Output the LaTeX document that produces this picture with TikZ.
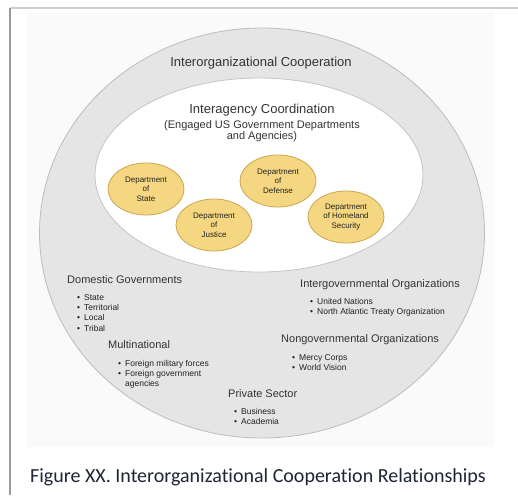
\documentclass[tikz,border=0pt]{standalone}
\usepackage{fontspec}
\setmainfont{Liberation Sans}
\newfontfamily\captionfont[Ligatures=NoCommon]{Carlito}
\usetikzlibrary{shapes.geometric}
\definecolor{framegray}{HTML}{9A9A9A}
\definecolor{toplinegray}{HTML}{CFCFCF}
\definecolor{panelgray}{HTML}{FAFAFA}
\definecolor{outerfill}{HTML}{E5E5E5}
\definecolor{outerline}{HTML}{BDBDBD}
\definecolor{innerline}{HTML}{C4C4C4}
\definecolor{deptfill}{HTML}{F6D781}
\definecolor{deptline}{HTML}{C9A650}
\definecolor{labeltext}{HTML}{333333}
\definecolor{depttext}{HTML}{222222}
\definecolor{captiontext}{HTML}{1E2533}
\tikzstyle{dept}=[ellipse,draw=deptline,fill=deptfill,line width=0.8pt,minimum width=76pt,minimum height=52pt,inner sep=0pt,align=center,font=\fontsize{8}{9.5}\selectfont,text=depttext]
\tikzstyle{title}=[inner sep=0pt,font=\fontsize{13}{15}\selectfont,text=labeltext]
\tikzstyle{group}=[anchor=base west,inner sep=0pt,font=\fontsize{11}{13}\selectfont,text=labeltext]
\tikzstyle{items}=[anchor=base west,inner sep=0pt,font=\fontsize{8.5}{10.4}\selectfont,text=depttext]
\newcommand{\bulletlist}[1]{\begin{tabular}[t]{@{}l@{\hspace{4pt}}l@{}}#1\end{tabular}}

\begin{document}
\begin{tikzpicture}[x=1pt,y=-1pt]
        \useasboundingbox (0,0) rectangle (518,495);
        % frame and panel
        \fill[panelgray] (27,12) rectangle (494,447);
        \draw[toplinegray,line width=1.2pt] (10,8) -- (518,8);
        \draw[framegray,line width=1.4pt] (10,8) -- (10,495);
        % circles
        \node[ellipse,draw=outerline,fill=outerfill,line width=0.8pt,minimum width=445pt,minimum height=410pt] (outer) at (262,233) {};
        \node[ellipse,draw=innerline,fill=white,line width=0.8pt,minimum width=328pt,minimum height=194pt] (inner) at (259,175) {};
        \node[title] (coop) at (261,63) {Interorganizational Cooperation};
        \node[title] (coord) at (262,110) {Interagency Coordination};
        \node[inner sep=0pt,align=center,font=\fontsize{11}{11}\selectfont,text=labeltext] (engaged) at (262,131.5) {(Engaged US Government Departments\\and Agencies)};
        % departments
        \node[dept] (state) at (146,189) {Department\\of\\State};
        \node[dept] (justice) at (214,225) {Department\\of\\Justice};
        \node[dept] (defense) at (278,181) {Department\\of\\Defense};
        \node[dept] (homeland) at (346,217) {Department\\of Homeland\\Security};
        % partner groups
        \node[group] (domestic) at (67,283) {Domestic Governments};
        \node[items] (domlist) at (77,300) {\bulletlist{\textbullet & State\\ \textbullet & Territorial\\ \textbullet & Local\\ \textbullet & Tribal}};
        \node[group] (multi) at (108,348) {Multinational};
        \node[items] (multilist) at (118,366) {\bulletlist{\textbullet & Foreign military forces\\ \textbullet & Foreign government\\ & agencies}};
        \node[group] (private) at (228,397) {Private Sector};
        \node[items] (privlist) at (234,414) {\bulletlist{\textbullet & Business\\ \textbullet & Academia}};
        \node[group] (igo) at (300,287) {Intergovernmental Organizations};
        \node[items] (igolist) at (310,304) {\bulletlist{\textbullet & United Nations\\ \textbullet & North Atlantic Treaty Organization}};
        \node[group] (ngo) at (281,342) {Nongovernmental Organizations};
        \node[items] (ngolist) at (292,360) {\bulletlist{\textbullet & Mercy Corps\\ \textbullet & World Vision}};
        % caption
        \node[inner sep=0pt,font=\captionfont\fontsize{20}{24}\selectfont,text=captiontext] (caption) at (258,477) {Figure XX. Interorganizational Cooperation Relationships};
    \end{tikzpicture}
\end{document}
